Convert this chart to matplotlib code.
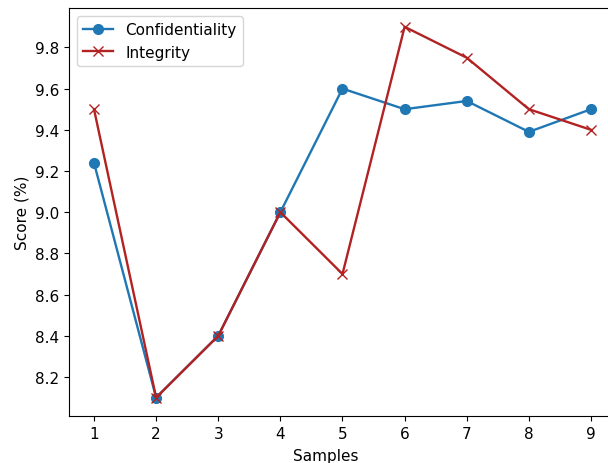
import matplotlib
matplotlib.use('Agg')
import matplotlib.pyplot as plt
from matplotlib.ticker import MultipleLocator, FormatStrFormatter

# Scores per sample
samples = [1, 2, 3, 4, 5, 6, 7, 8, 9]
confidentiality = [9.24, 8.10, 8.40, 9.00, 9.60, 9.50, 9.54, 9.39, 9.50]
integrity = [9.50, 8.10, 8.40, 9.00, 8.70, 9.90, 9.75, 9.50, 9.40]

plt.rcParams['font.size'] = 11

fig = plt.figure(figsize=(6.08, 4.64), dpi=100)
# axes run past the right edge of the canvas, so the right spine is not drawn in view
ax = fig.add_axes([0.1135, 0.101, 0.95, 0.879])

ax.plot(samples, confidentiality, marker='o', color='#1f77b4', lw=1.7, ms=7,
        label='Confidentiality')
ax.plot(samples, integrity, marker='x', color='#b22222', lw=1.7, ms=7,
        label='Integrity')

ax.set_xlim(0.598, 9.895)
ax.set_xlabel('Samples')
ax.xaxis.set_label_coords(0.444, -0.078)
ax.set_ylabel('Score (%)')
ax.set_xticks(samples)
ax.yaxis.set_major_locator(MultipleLocator(0.2))
ax.yaxis.set_major_formatter(FormatStrFormatter('%.1f'))
ax.legend(loc='upper left')

fig.savefig('out.png', dpi=100)
